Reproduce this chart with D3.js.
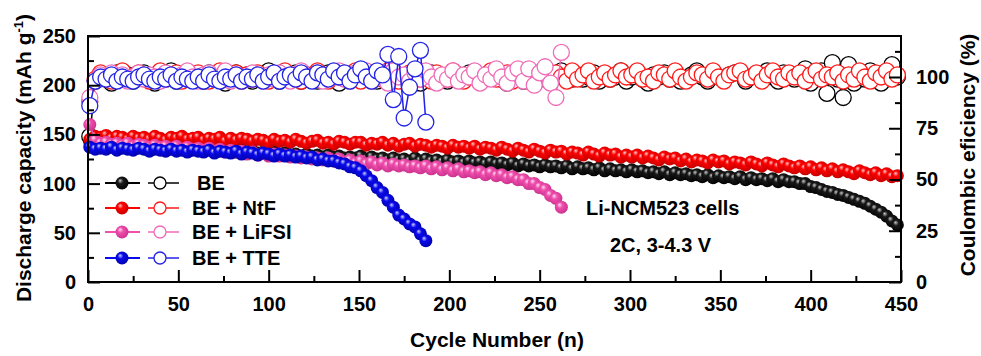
<!DOCTYPE html>
<html>
<head>
<meta charset="utf-8">
<script src="https://cdn.jsdelivr.net/npm/d3@7"></script>
<style>
  html, body { margin: 0; padding: 0; background: #fff; }
  svg { display: block; font-family: "Liberation Sans", Arial, sans-serif; font-weight: bold; }
</style>
</head>
<body>
<svg id="chart" width="981" height="356"></svg>
<script>
// ---------------- DATA ----------------
const cycleStep = 3;            // one value every 3 cycles, starting at cycle 1
const xTicks = [0, 50, 100, 150, 200, 250, 300, 350, 400, 450];
const capTicks = [0, 50, 100, 150, 200, 250];
const ceTicks = [0, 25, 50, 75, 100];
const seriesNames = ["BE", "BE + NtF", "BE + LiFSI", "BE + TTE"];
const seriesColors = ["#000000", "#ff0000", "#f04fae", "#0a0aee"];

// Discharge capacity (mAh g-1), cycles 1,4,7,...
const capBE = [
  142,141,143,140,142,140,141,139,141,139,
  140,138,139,137,139,136,138,136,137,135,
  136,134,135,133,135,133,134,132,134,131,
  133,131,132,130,132,129,131,129,130,128,
  130,128,129,127,129,127,128,126,127,126,
  128,125,127,125,126,124,126,124,125,123,
  126,123,125,123,124,122,124,122,123,121,
  123,121,122,120,122,120,121,119,121,118,
  120,118,119,117,119,117,118,116,118,115,
  117,115,116,114,116,113,115,113,114,112,
  114,112,113,111,112,110,112,109,111,109,
  110,108,109,107,109,106,108,106,107,105,
  107,104,106,104,105,103,105,102,104,102,
  102,100,100,97,96,94,92,91,89,88,
  86,84,82,80,77,74,71,67,62,58
];
const capNtF = [
  145,148,147,149,146,148,147,145,148,146,
  147,145,148,146,144,147,146,148,145,146,
  147,144,146,145,147,143,146,144,146,145,
  143,145,144,142,145,143,144,142,145,143,
  141,143,144,141,142,140,143,142,140,142,
  142,139,141,140,142,139,141,138,140,141,
  138,140,139,137,139,138,136,139,137,138,
  136,138,135,137,136,134,137,135,133,136,
  134,132,135,133,131,134,132,133,130,132,
  131,129,132,130,128,131,129,130,127,129,
  127,129,126,128,126,124,127,125,126,123,
  125,122,124,123,121,124,122,123,120,122,
  121,119,122,120,118,121,119,117,120,118,
  116,118,115,117,114,116,113,115,112,114,
  112,110,113,111,109,111,108,110,107,108
];
const capLiFSI = [
  160,144,141,142,140,141,139,141,138,140,
  139,137,139,137,138,136,138,135,137,135,
  136,134,136,133,135,132,134,132,133,130,
  132,129,131,128,130,128,129,127,128,126,
  127,125,126,124,126,123,125,122,124,121,
  123,120,122,119,121,118,120,118,119,117,
  118,116,118,115,117,114,116,113,115,112,
  113,111,112,109,111,108,109,106,107,104,
  104,100,100,96,94,88,85,76
];
const capTTE = [
  137,135,136,135,137,134,136,135,134,136,
  135,133,135,134,133,135,133,134,132,134,
  133,132,134,131,133,132,131,133,130,132,
  131,129,131,130,128,130,128,129,127,128,
  126,127,124,125,123,123,121,120,117,116,
  113,108,103,96,91,83,76,68,64,59,
  56,49,42
];

// Coulombic efficiency (%), cycles 1,4,7,...
const ceBE = [
  71,98,101,100,97,102,99,101,98,100,
  102,99,97,101,100,103,98,100,101,99,
  100,98,102,99,101,97,100,102,99,101,
  98,101,100,103,99,98,101,100,102,98,
  101,99,98,100,102,101,97,100,99,102,
  99,102,100,98,101,99,103,100,98,101,
  100,97,101,102,99,100,98,102,101,99,
  102,100,98,101,100,103,99,97,101,100,
  98,101,102,99,100,98,101,103,100,99,
  101,99,100,102,98,101,99,100,103,98,
  100,102,99,97,101,100,102,99,101,98,
  99,101,103,100,98,102,100,99,101,102,
  102,98,100,101,99,103,100,98,102,100,
  99,101,104,97,101,103,92,107,99,90,
  106,97,101,99,103,100,97,101,106,100
];
const ceNtF = [
  88,99,102,100,98,101,103,99,100,102,
  100,98,101,103,99,100,102,98,101,100,
  102,100,98,101,103,99,100,102,98,101,
  99,102,100,98,101,100,103,99,101,98,
  101,99,103,100,98,102,100,101,99,103,
  98,101,100,102,99,103,101,98,100,102,
  103,99,101,98,102,100,99,103,101,98,
  100,102,98,101,103,99,100,102,98,101,
  102,98,101,100,103,99,102,100,98,103,
  99,101,103,98,100,102,99,101,103,100,
  101,103,99,100,98,102,101,99,103,100,
  98,100,102,101,99,103,100,98,101,102,
  103,99,100,102,98,101,103,100,99,102,
  100,102,98,101,103,99,101,100,102,98,
  101,99,103,100,98,102,100,103,99,101
];
const ceLiFSI = [
  90,98,101,100,102,99,101,98,100,102,
  99,101,100,98,102,100,99,101,103,100,
  98,101,102,99,100,103,98,101,100,99,
  102,100,98,101,99,102,100,98,101,103,
  100,99,102,98,101,100,103,99,98,102,
  101,103,98,100,102,97,103,100,101,98,
  102,99,103,100,97,101,99,103,98,101,
  100,103,97,101,99,104,100,97,102,104,
  98,104,96,102,105,97,90,112
];
const ceTTE = [
  86,98,100,99,101,98,100,99,98,100,
  101,99,98,100,99,101,98,100,99,98,
  100,98,101,99,98,100,99,101,98,100,
  99,101,98,100,102,98,100,101,99,102,
  100,98,102,101,99,103,100,102,98,101,
  104,100,98,103,101,111,89,110,80,95,
  104,113,78
];

const capData = [capBE, capNtF, capLiFSI, capTTE];
const ceData = [ceBE, ceNtF, ceLiFSI, ceTTE];

// ---------------- CHART ----------------
const W = 981, H = 356;
const M = { left: 88, right: 80, top: 36, bottom: 74 };
const svg = d3.select("#chart");

const x = d3.scaleLinear().domain([0, 450]).range([M.left, W - M.right]);
const yL = d3.scaleLinear().domain([0, 250]).range([H - M.bottom, M.top]);
const yR = d3.scaleLinear().domain([0, 120]).range([H - M.bottom, M.top]);

// sphere gradients
const defs = svg.append("defs");
const grad = [
  { id: "gBE", hi: "#c8c8c8", mid: "#1a1a1a", lo: "#000000" },
  { id: "gNtF", hi: "#ffc8c8", mid: "#ff0000", lo: "#c00000" },
  { id: "gLiFSI", hi: "#ffe0f0", mid: "#f04fae", lo: "#c8308a" },
  { id: "gTTE", hi: "#d0d0ff", mid: "#0a0aee", lo: "#0000a8" }
];
grad.forEach(g => {
  const rg = defs.append("radialGradient").attr("id", g.id)
    .attr("cx", "0.45").attr("cy", "0.45").attr("r", "0.6")
    .attr("fx", "0.35").attr("fy", "0.3");
  rg.append("stop").attr("offset", "0%").attr("stop-color", g.hi);
  rg.append("stop").attr("offset", "35%").attr("stop-color", g.mid);
  rg.append("stop").attr("offset", "100%").attr("stop-color", g.lo);
});
const openStroke = ["#000000", "#ff1a1a", "#f06cb8", "#2323e6"];

const toPts = arr => arr.map((v, i) => ({ c: 1 + i * cycleStep, v }));
const plot = svg.append("g");

function drawSeries(k) {
  // capacity (filled spheres)
  const cp = toPts(capData[k]);
  plot.append("path").datum(cp)
    .attr("fill", "none").attr("stroke", seriesColors[k]).attr("stroke-width", 1.5)
    .attr("d", d3.line().x(d => x(d.c)).y(d => yL(d.v)));
  plot.append("g").selectAll("circle").data(cp).join("circle")
    .attr("cx", d => x(d.c)).attr("cy", d => yL(d.v)).attr("r", 6.5)
    .attr("fill", `url(#${grad[k].id})`);
  // coulombic efficiency (open circles)
  const ep = toPts(ceData[k]);
  plot.append("path").datum(ep)
    .attr("fill", "none").attr("stroke", openStroke[k]).attr("stroke-width", 1.5)
    .attr("d", d3.line().x(d => x(d.c)).y(d => yR(d.v)));
  plot.append("g").selectAll("circle").data(ep).join("circle")
    .attr("cx", d => x(d.c)).attr("cy", d => yR(d.v)).attr("r", 8)
    .attr("fill", "#fff").attr("stroke", openStroke[k]).attr("stroke-width", 1.3);
}
[0, 1, 2, 3].forEach(drawSeries);

// axes
const fs = "20px";
function styleAxis(g) {
  g.select(".domain").remove();
  g.selectAll("line").attr("stroke", "#000").attr("stroke-width", 2);
  g.selectAll("text").attr("font-size", fs).attr("font-weight", "bold").attr("fill", "#000")
    .attr("font-family", "'Liberation Sans', Arial, sans-serif");
}
const minor = (vals, step) => vals.slice(0, -1).map(v => v + step / 2);

svg.append("g").attr("transform", `translate(0,${H - M.bottom})`)
  .call(d3.axisBottom(x).tickValues(xTicks).tickSizeInner(-12).tickSizeOuter(0).tickPadding(15).tickFormat(d3.format("d")))
  .call(styleAxis);
svg.append("g").attr("transform", `translate(0,${H - M.bottom})`)
  .call(d3.axisBottom(x).tickValues(minor(xTicks, 50)).tickSizeInner(-6).tickSizeOuter(0).tickFormat(""))
  .call(styleAxis);

svg.append("g").attr("transform", `translate(${M.left},0)`)
  .call(d3.axisLeft(yL).tickValues(capTicks).tickSizeInner(-12).tickSizeOuter(0).tickPadding(12).tickFormat(d3.format("d")))
  .call(styleAxis);
svg.append("g").attr("transform", `translate(${M.left},0)`)
  .call(d3.axisLeft(yL).tickValues(minor(capTicks, 50)).tickSizeInner(-6).tickSizeOuter(0).tickFormat(""))
  .call(styleAxis);

svg.append("g").attr("transform", `translate(${W - M.right},0)`)
  .call(d3.axisRight(yR).tickValues(ceTicks).tickSizeInner(-12).tickSizeOuter(0).tickPadding(15).tickFormat(d3.format("d")))
  .call(styleAxis);
svg.append("g").attr("transform", `translate(${W - M.right},0)`)
  .call(d3.axisRight(yR).tickValues(minor(ceTicks.concat([125]), 25)).tickSizeInner(-6).tickSizeOuter(0).tickFormat(""))
  .call(styleAxis);

// frame
svg.append("rect").attr("x", M.left).attr("y", M.top)
  .attr("width", W - M.left - M.right).attr("height", H - M.top - M.bottom)
  .attr("fill", "none").attr("stroke", "#000").attr("stroke-width", 2);

// axis titles
const lt = svg.append("text").attr("transform", "translate(31,158) rotate(-90)")
  .attr("text-anchor", "middle").attr("font-size", "21px").attr("fill", "#000");
lt.append("tspan").text("Discharge capacity (mAh g");
lt.append("tspan").text("-1").attr("font-size", "13px").attr("dy", "-8");
lt.append("tspan").text(")").attr("dy", "8");

svg.append("text").attr("transform", "translate(975,155) rotate(-90)")
  .attr("text-anchor", "middle").attr("font-size", "21px").attr("fill", "#000")
  .text("Coulombic eficiency (%)");

svg.append("text").attr("x", 497).attr("y", 347)
  .attr("text-anchor", "middle").attr("font-size", "21px").attr("fill", "#000")
  .text("Cycle Number (n)");

// legend
const legY = [183, 208, 232, 258];
seriesNames.forEach((name, k) => {
  const g = svg.append("g").attr("transform", `translate(0,${legY[k]})`);
  g.append("line").attr("x1", 105).attr("x2", 140).attr("stroke", seriesColors[k]).attr("stroke-width", 1.8);
  g.append("circle").attr("cx", 122).attr("r", 6.5).attr("fill", `url(#${grad[k].id})`);
  g.append("line").attr("x1", 148).attr("x2", 179).attr("stroke", openStroke[k]).attr("stroke-width", 1.5);
  g.append("circle").attr("cx", 160).attr("r", 6).attr("fill", "#fff").attr("stroke", openStroke[k]).attr("stroke-width", 1.3);
  g.append("text").attr("x", k === 0 ? 197 : 192).attr("y", 7)
    .attr("font-size", fs).attr("fill", "#000").text(name);
});

// annotations
svg.append("text").attr("x", 586).attr("y", 215).attr("font-size", fs).attr("fill", "#000").text("Li-NCM523 cells");
svg.append("text").attr("x", 610).attr("y", 252).attr("font-size", fs).attr("fill", "#000").text("2C, 3-4.3 V");
</script>
</body>
</html>
